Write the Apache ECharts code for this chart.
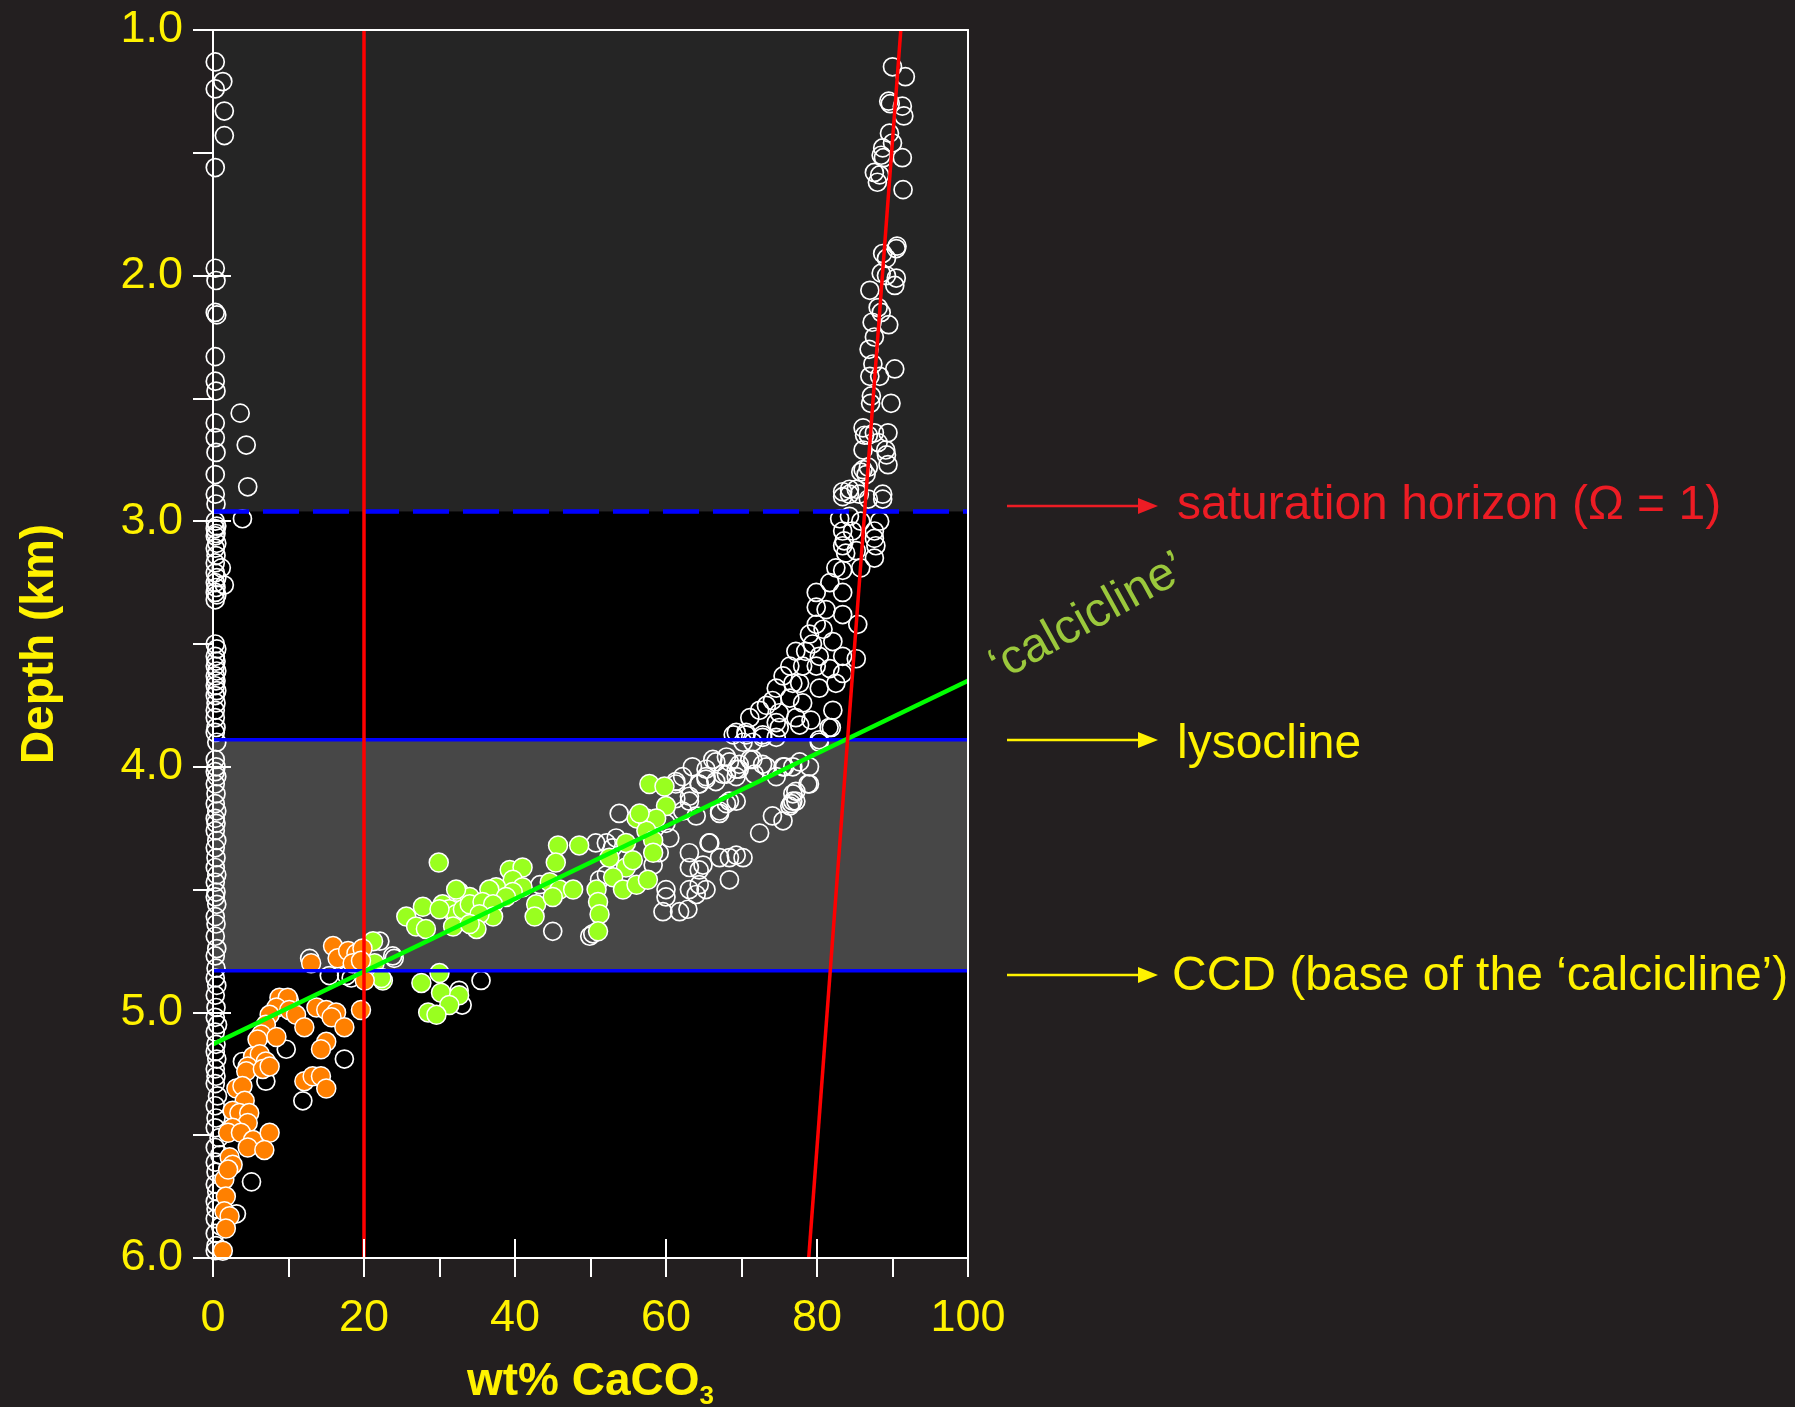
<!DOCTYPE html>
<html>
<head>
<meta charset="utf-8">
<script src="https://cdn.jsdelivr.net/npm/echarts@6/dist/echarts.min.js"></script>
<style>
html,body{margin:0;padding:0;background:#231F20;}
#chart{width:1795px;height:1407px;}
</style>
</head>
<body>
<div id="chart"></div>
<script>
// ---------- DATA ----------
const xTicks = [0, 20, 40, 60, 80, 100];
const yTicks = [1.0, 2.0, 3.0, 4.0, 5.0, 6.0];

// depth levels (km)
const saturationHorizon = 2.96;
const lysocline = 3.89;
const ccd = 4.83;

// reference lines [wt%, depth]
const redVertical = [[20, 1.0], [20, 6.0]];
const redSlope = [[91.1, 1.0], [78.9, 6.0]];
const calciclineFit = [[0, 5.13], [100, 3.65]];

// open (white) circles: [wt% CaCO3, depth km]
const openColumn = [
  [0.3,1.13],[1.3,1.21],[0.3,1.24],[1.5,1.33],[1.5,1.43],[0.3,1.56],[0.3,1.97],[0.4,2.02],[0.3,2.15],[0.5,2.16],
  [0.3,2.33],[0.3,2.43],[0.4,2.47],[0.3,2.60],[0.3,2.66],[0.4,2.72],[0.3,2.81],[0.3,2.89],[0.4,2.93],[0.3,3.00],
  [0.5,3.02],[0.3,3.03],[0.4,3.05],[0.3,3.06],[0.5,3.09],[0.3,3.11],[0.4,3.14],[0.3,3.17],[0.3,3.21],[0.5,3.23],
  [0.3,3.25],[0.4,3.27],[0.3,3.29],[0.5,3.30],[0.3,3.32],[1.1,3.19],[1.5,3.26],
  [0.3,3.50],[0.5,3.52],[0.3,3.55],[0.4,3.57],[0.3,3.59],[0.5,3.61],[0.3,3.63],[0.4,3.65],[0.3,3.67],[0.5,3.69],
  [0.3,3.71],[0.4,3.74],[0.3,3.77],[0.3,3.80],[0.4,3.84],[0.3,3.86],[0.5,3.90],[0.3,3.97],[0.4,4.00],[0.3,4.02],
  [0.5,4.04],[0.3,4.07],[0.4,4.11],[0.3,4.15],[0.5,4.18],[0.3,4.21],[0.4,4.23],[0.3,4.26],[0.5,4.30],[0.3,4.33],
  [0.4,4.37],[0.3,4.41],[0.5,4.44],[0.3,4.47],[0.4,4.51],[0.3,4.53],[0.5,4.56],[0.3,4.61],[0.4,4.64],[0.3,4.69],
  [0.5,4.74],[0.3,4.77],[0.4,4.82],[0.3,4.86],[0.5,4.89],[0.3,4.93],[0.4,4.98],[0.3,5.02],[0.6,5.05],[0.3,5.08],
  [0.4,5.13],[0.3,5.16],[0.5,5.19],[0.3,5.23],[0.4,5.26],[0.3,5.29],[0.6,5.34],[0.3,5.38],[0.4,5.43],[0.3,5.47],
  [0.8,5.51],[0.3,5.55],[0.9,5.58],[0.3,5.61],[0.4,5.65],[0.3,5.70],[0.5,5.73],[0.3,5.77],[0.4,5.80],[0.3,5.84],
  [1.0,5.87],[0.3,5.90],[0.4,5.95],[0.3,5.97]
];
const openScatter = [
  [3.6,2.56],[4.4,2.69],[4.6,2.86],[3.9,2.99],
  [12.8,4.78],[15.4,4.85],[18.3,4.86],[24.0,4.78],[17.7,4.85],[10.1,4.95],[9.7,5.15],[17.4,5.19],[7.0,5.28],
  [11.9,5.36],[3.9,5.20],[5.1,5.69],[3.1,5.82],[35.5,4.87],[32.6,4.91],[33.0,4.97],[22.1,4.71],[23.8,4.77],
  [45.0,4.67],[49.9,4.69],[50.3,4.68],[50.7,4.31],[51.2,4.46],[52.1,4.44],[52.9,4.33],[43.3,4.48]
];
const openSurface = [
  [90.0,1.15],[91.7,1.19],[89.5,1.29],[89.7,1.30],[91.3,1.31],[91.5,1.35],[89.6,1.42],[90.0,1.46],[88.7,1.48],
  [88.5,1.51],[88.8,1.52],[91.3,1.52],[87.6,1.58],[88.3,1.59],[88.0,1.62],[91.4,1.65],[90.6,1.88],[90.5,1.89],
  [88.7,1.91],[89.2,1.93],[88.5,1.99],[89.2,2.00],[90.5,2.01],[90.3,2.04],[87.0,2.06],[88.1,2.13],[88.5,2.15],
  [87.3,2.19],[89.5,2.20],[87.6,2.25],[86.9,2.30],[87.4,2.36],[90.3,2.38],[87.0,2.41],[88.3,2.41],[87.2,2.49],
  [87.1,2.52],[89.8,2.52],[86.1,2.62],[87.6,2.64],[89.4,2.64],[86.3,2.65],[86.8,2.65],[88.1,2.68],[89.1,2.71],
  [86.1,2.71],[89.2,2.73],[85.8,2.80],[86.8,2.78],[89.4,2.77],[86.5,2.81],[83.4,2.88],[84.3,2.87],[85.2,2.87],
  [88.7,2.89]
];
const openCurve = [
  [86.1,2.79],[83.4,2.90],[84.3,2.89],[85.6,2.89],[88.7,2.91],[86.8,2.91],[83.0,2.99],[84.3,2.98],[85.8,3.00],
  [88.3,3.00],[87.6,3.04],[83.4,3.04],[84.7,3.04],[83.6,3.08],[87.6,3.07],[87.8,3.10],[83.4,3.10],[85.2,3.12],
  [87.6,3.15],[83.8,3.13],[82.5,3.19],[83.4,3.20],[85.8,3.19],[81.7,3.25],[83.4,3.29],[79.9,3.29],[79.9,3.35],
  [81.2,3.36],[83.4,3.38],[85.4,3.42],[79.9,3.42],[79.0,3.46],[80.8,3.44],[79.4,3.50],[82.1,3.49],[77.2,3.53],
  [78.5,3.53],[80.3,3.55],[85.2,3.56],[83.4,3.55],[76.4,3.59],[78.1,3.59],[79.9,3.59],[81.7,3.60],[75.5,3.63],
  [76.8,3.66],[83.4,3.62],[74.6,3.68],[77.7,3.66],[80.3,3.68],[82.5,3.66],[74.1,3.73],[76.4,3.72],[78.1,3.74],
  [73.3,3.75],[75.0,3.78],[77.2,3.80],[71.1,3.80],[72.4,3.77],[74.6,3.82],[79.2,3.81],[82.1,3.77],[81.9,3.84],
  [69.3,3.86],[70.6,3.86],[72.8,3.88],[74.6,3.88],[80.3,3.90],[70.2,3.90],[71.5,3.90],[75.0,3.84],[77.7,3.83],
  [81.6,3.84],[80.3,3.89],[68.9,3.87],
  [63.5,4.00],[65.3,4.01],[66.6,3.98],[68.4,3.98],[69.3,4.01],[71.1,3.97],[72.8,3.99],[75.5,4.00],[77.7,3.98],
  [79.0,4.00],[65.3,4.05],[67.5,4.03],[69.3,4.04],[71.7,4.03],[64.4,4.07],[66.6,4.06],[74.6,4.04],[79.0,4.07],
  [76.8,4.11],[76.8,4.14],[76.4,4.16],[61.3,4.06],[63.1,4.14],[61.3,4.13],[62.2,4.18],[64.0,4.20],[67.1,4.19],
  [68.4,4.14],[74.1,4.20],[75.5,4.22],[72.4,4.27],[65.8,4.31],[63.1,4.35],[64.9,4.40],[68.4,4.37],[69.3,4.36],
  [70.2,4.37],[68.4,4.46],[60.0,4.23],[60.5,4.29],[59.1,4.35],[58.3,4.40],[60.0,4.50],[63.1,4.50],[64.4,4.48],
  [65.3,4.50],[53.8,4.19],[53.4,4.29],[52.1,4.31],[60.0,4.53],[59.6,4.59],[61.8,4.59],[62.9,4.58],[64.0,4.52],
  [63.1,4.41],[64.4,4.42],[65.7,4.31],[67.1,4.37],[76.6,4.15],[77.2,4.14],[78.8,4.07],[77.2,4.10],[76.8,4.00],
  [75.7,4.00],[62.2,4.04],[61.3,4.07],[63.1,4.12],[64.4,4.07],[65.3,4.04],[66.2,3.97],[68.0,3.96],[69.7,3.99],
  [71.5,3.97],[73.3,4.00],[68.0,4.03],[69.7,4.01],[70.6,3.87],[72.8,3.87],[68.0,4.15],[69.3,4.14],[67.1,4.18]
];

// green filled circles (calcicline samples)
const greenPts = [
  [29.9,4.39],[45.7,4.32],[48.5,4.32],[45.4,4.39],[57.8,4.07],[59.8,4.08],[60.0,4.16],[56.1,4.21],[57.4,4.21],
  [58.7,4.21],[57.4,4.26],[58.3,4.30],[58.3,4.35],[56.5,4.19],[54.7,4.31],[52.5,4.37],[54.7,4.41],[55.6,4.38],
  [53.0,4.45],[54.3,4.50],[56.1,4.48],[57.6,4.46],[50.8,4.50],[51.0,4.55],[51.2,4.60],[51.0,4.67],[42.8,4.56],
  [42.6,4.61],[44.6,4.47],[45.9,4.50],[47.7,4.50],[45.0,4.53],[39.3,4.42],[41.0,4.41],[39.7,4.46],[37.5,4.49],
  [36.6,4.50],[41.0,4.49],[39.7,4.51],[38.8,4.53],[32.6,4.51],[34.0,4.53],[30.4,4.56],[31.3,4.58],[32.2,4.60],
  [33.1,4.58],[34.0,4.56],[35.7,4.55],[37.1,4.56],[37.1,4.61],[35.3,4.60],[34.9,4.66],[27.8,4.57],[25.6,4.61],
  [26.9,4.65],[28.2,4.66],[30.0,4.58],[31.8,4.65],[34.0,4.64],[22.5,4.87],[27.6,4.88],[30.0,4.84],[30.2,4.92],
  [32.6,4.93],[31.3,4.97],[28.5,5.00],[29.6,5.01],[21.2,4.71],[21.4,4.80],[22.3,4.86],[32.2,4.50]
];

// orange filled circles (below the CCD)
const orangePts = [
  [15.9,4.73],[16.5,4.78],[17.9,4.75],[19.0,4.76],[18.5,4.80],[19.8,4.74],[19.6,4.79],[13.0,4.80],[20.1,4.87],
  [19.6,4.99],[8.8,4.94],[9.9,4.94],[8.4,4.98],[10.1,4.99],[11.0,5.01],[7.5,5.01],[7.0,5.05],[13.7,4.98],
  [15.0,4.99],[16.3,5.00],[15.7,5.02],[12.1,5.06],[17.4,5.06],[6.4,5.09],[8.4,5.10],[5.9,5.11],[15.0,5.12],
  [14.3,5.15],[5.3,5.18],[6.2,5.17],[7.0,5.20],[4.6,5.22],[4.4,5.24],[6.6,5.23],[7.5,5.22],[12.1,5.28],
  [13.2,5.26],[14.3,5.26],[15.0,5.31],[3.1,5.31],[3.9,5.30],[4.2,5.36],[2.6,5.40],[3.5,5.41],[4.8,5.41],
  [4.6,5.45],[2.6,5.47],[2.0,5.49],[3.7,5.49],[5.3,5.52],[7.5,5.49],[4.6,5.55],[6.8,5.56],[2.2,5.59],
  [2.6,5.62],[1.5,5.68],[2.0,5.64],[1.7,5.75],[1.5,5.81],[2.2,5.83],[1.7,5.88],[1.3,5.97]
];

// ---------- CHART ----------
const FONT = "'Liberation Sans', Arial, Helvetica, sans-serif";
const YEL = '#FFF200';
const chart = echarts.init(document.getElementById('chart'), null, {renderer: 'canvas'});

const option = {
  backgroundColor: '#231F20',
  animation: false,
  grid: {left: 213, top: 30, width: 755, height: 1228, show: false, containLabel: false, outerBoundsMode: 'none'},
  xAxis: [
    {
      type: 'value', min: 0, max: 100, interval: 20, position: 'bottom', z: 10,
      name: 'wt% CaCO{sub|3}', nameLocation: 'middle', nameGap: 96,
      nameTextStyle: {
        color: YEL, fontFamily: FONT, fontSize: 46, fontWeight: 'bold',
        rich: {sub: {color: YEL, fontFamily: FONT, fontSize: 26, fontWeight: 'bold', verticalAlign: 'bottom', padding: [30, 0, 0, 0]}}
      },
      axisLine: {show: true, onZero: false, lineStyle: {color: '#fff', width: 2}},
      axisTick: {show: true, length: 19, lineStyle: {color: '#fff', width: 2}},
      minorTick: {show: true, splitNumber: 2, length: 19, lineStyle: {color: '#fff', width: 2}},
      axisLabel: {color: YEL, fontFamily: FONT, fontSize: 45, margin: 38,
        formatter: v => xTicks.includes(v) ? String(v) : ''},
      splitLine: {show: false}
    },
    {
      type: 'value', min: 0, max: 100, interval: 20, position: 'bottom', z: 10,
      axisLine: {show: false}, axisLabel: {show: false}, splitLine: {show: false},
      axisTick: {show: true, inside: true, length: 19, lineStyle: {color: '#fff', width: 2}}
    },
    {
      type: 'value', min: 0, max: 100, position: 'top', z: 10,
      axisLine: {show: true, onZero: false, lineStyle: {color: '#fff', width: 2}},
      axisTick: {show: false}, axisLabel: {show: false}, splitLine: {show: false}
    }
  ],
  yAxis: [
    {
      type: 'value', min: 1, max: 6, interval: 1, inverse: true, position: 'left', z: 10,
      name: 'Depth (km)', nameLocation: 'middle', nameGap: 150, nameRotate: 90,
      nameTextStyle: {color: YEL, fontFamily: FONT, fontSize: 46, fontWeight: 'bold'},
      axisLine: {show: true, onZero: false, lineStyle: {color: '#fff', width: 2}},
      axisTick: {show: true, length: 20, lineStyle: {color: '#fff', width: 2}},
      minorTick: {show: true, splitNumber: 2, length: 20, lineStyle: {color: '#fff', width: 2}},
      axisLabel: {color: YEL, fontFamily: FONT, fontSize: 45, margin: 30,
        formatter: v => yTicks.includes(v) ? v.toFixed(1) : ''},
      splitLine: {show: false}
    },
    {
      type: 'value', min: 1, max: 6, interval: 1, inverse: true, position: 'left', z: 10,
      axisLine: {show: false}, axisLabel: {show: false}, splitLine: {show: false},
      axisTick: {show: true, inside: true, length: 18, lineStyle: {color: '#fff', width: 2}}
    },
    {
      type: 'value', min: 1, max: 6, inverse: true, position: 'right', z: 10,
      axisLine: {show: true, onZero: false, lineStyle: {color: '#fff', width: 2}},
      axisTick: {show: false}, axisLabel: {show: false}, splitLine: {show: false}
    }
  ],
  series: [
    {
      type: 'line', data: [], z: 1, silent: true,
      markArea: {
        silent: true,
        data: [
          [{yAxis: 1, xAxis: 0, itemStyle: {color: '#252525'}}, {yAxis: saturationHorizon, xAxis: 100}],
          [{yAxis: saturationHorizon, xAxis: 0, itemStyle: {color: '#000000'}}, {yAxis: lysocline, xAxis: 100}],
          [{yAxis: lysocline, xAxis: 0, itemStyle: {color: '#474747'}}, {yAxis: ccd, xAxis: 100}],
          [{yAxis: ccd, xAxis: 0, itemStyle: {color: '#000000'}}, {yAxis: 6, xAxis: 100}]
        ]
      }
    },
    {
      type: 'scatter', z: 2, symbol: 'circle', symbolSize: 18,
      data: openColumn.concat(openScatter, openSurface, openCurve),
      itemStyle: {color: 'rgba(0,0,0,0)', borderColor: '#ffffff', borderWidth: 1.7, opacity: 1}
    },
    {
      type: 'scatter', z: 3, symbol: 'circle', symbolSize: 19,
      data: greenPts,
      itemStyle: {color: '#99FF1F', borderColor: '#ffffff', borderWidth: 1.5, opacity: 1}
    },
    {
      type: 'scatter', z: 3, symbol: 'circle', symbolSize: 19,
      data: orangePts,
      itemStyle: {color: '#FF8000', borderColor: '#ffffff', borderWidth: 1.5, opacity: 1}
    },
    {
      type: 'line', z: 4, showSymbol: false, silent: true,
      data: [[0, saturationHorizon], [100, saturationHorizon]],
      lineStyle: {color: '#0000FF', width: 4.5, type: [36, 14]}
    },
    {
      type: 'line', z: 4, showSymbol: false, silent: true,
      data: [[0, lysocline], [100, lysocline]],
      lineStyle: {color: '#0000FF', width: 3.5}
    },
    {
      type: 'line', z: 4, showSymbol: false, silent: true,
      data: [[0, ccd], [100, ccd]],
      lineStyle: {color: '#0000FF', width: 3.5}
    },
    {
      type: 'line', z: 5, showSymbol: false, silent: true,
      data: calciclineFit,
      lineStyle: {color: '#00FF00', width: 4.5}
    },
    {
      type: 'line', z: 6, showSymbol: false, silent: true,
      data: redVertical,
      lineStyle: {color: '#FF0000', width: 3.5}
    },
    {
      type: 'line', z: 6, showSymbol: false, silent: true,
      data: redSlope,
      lineStyle: {color: '#FF0000', width: 3.5}
    }
  ],
  graphic: [
    {type: 'line', shape: {x1: 1007, y1: 506, x2: 1142, y2: 506}, style: {stroke: '#ED1C24', lineWidth: 2.5}},
    {type: 'polygon', shape: {points: [[1138, 498], [1158, 506], [1138, 514]]}, style: {fill: '#ED1C24'}},
    {type: 'text', x: 1177, y: 506, style: {text: 'saturation horizon (Ω = 1)', fill: '#ED1C24', font: '48px ' + FONT, textVerticalAlign: 'middle', textAlign: 'left'}},

    {type: 'text', x: 1088, y: 618, rotation: 29 * Math.PI / 180, style: {text: '‘calcicline’', fill: '#9BC83C', font: '48px ' + FONT, textVerticalAlign: 'middle', textAlign: 'center'}},

    {type: 'line', shape: {x1: 1007, y1: 740, x2: 1142, y2: 740}, style: {stroke: YEL, lineWidth: 2.5}},
    {type: 'polygon', shape: {points: [[1138, 732], [1158, 740], [1138, 748]]}, style: {fill: YEL}},
    {type: 'text', x: 1177, y: 745, style: {text: 'lysocline', fill: YEL, font: '48px ' + FONT, textVerticalAlign: 'middle', textAlign: 'left'}},

    {type: 'line', shape: {x1: 1007, y1: 975, x2: 1142, y2: 975}, style: {stroke: YEL, lineWidth: 2.5}},
    {type: 'polygon', shape: {points: [[1138, 967], [1158, 975], [1138, 983]]}, style: {fill: YEL}},
    {type: 'text', x: 1172, y: 977, style: {text: 'CCD (base of the ‘calcicline’)', fill: YEL, font: '48px ' + FONT, textVerticalAlign: 'middle', textAlign: 'left'}}
  ]
};
chart.setOption(option);
</script>
</body>
</html>
